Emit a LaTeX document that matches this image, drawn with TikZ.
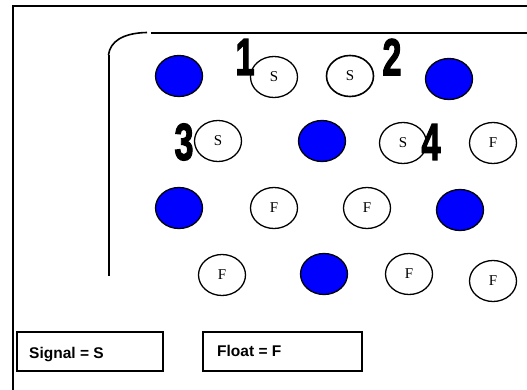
\documentclass[tikz,border=0pt]{standalone}
\usepackage{fontspec}
\setmainfont{Liberation Serif}
\newfontfamily\arialfont{Liberation Sans}
\newfontfamily\heavyfont[FakeBold=2.5]{Liberation Sans Bold}
\usetikzlibrary{shapes.geometric}
\tikzset{
  hole/.style={ellipse, draw=black, line width=1.3pt, minimum width=47pt, minimum height=41pt, inner sep=0pt,
    font=\fontsize{15}{15}\selectfont},
  bluehole/.style={hole, fill=blue},
  whitehole/.style={hole, fill=white},
  num/.style={inner sep=0pt, font=\heavyfont\fontsize{52}{52}\selectfont},
  frame/.style={line width=2pt},
  legend/.style={draw=black, line width=1.3pt, minimum width=146pt, minimum height=39pt, inner sep=0pt},
  legtext/.style={inner sep=0pt, anchor=west, font=\arialfont\bfseries\fontsize{15.5}{15.5}\selectfont}
}
\newcommand{\holetext}[1]{\raisebox{-3pt}{#1}}
\newcommand{\bignum}[1]{\scalebox{0.66}[1]{#1}}
\begin{document}
\begin{tikzpicture}[x=1pt,y=-1pt]
\useasboundingbox (0,0) rectangle (527,390);
% outer frame
\coordinate (oTL) at (13,6);
\coordinate (oTR) at (527,6);
\coordinate (oBL) at (13,390);
\draw[frame] (oTR) -- (oTL) -- (oBL);
% inner frame
\coordinate (iTR) at (527,33);
\coordinate (iTS) at (151,33);
\coordinate (cA) at (147,32.5);
\coordinate (cB) at (108.5,55);
\coordinate (iBL) at (108.5,276);
\draw[frame] (iTR) -- (iTS);
\draw[line width=1.6pt] (cA) .. controls (122,33) and (110,42) .. (cB);
\draw[frame] (cB) -- (iBL);
% row 1
\node[bluehole] (b11) at (179,76) {};
\node[whitehole] (s1) at (274,77) {\holetext{S}};
\node[whitehole, line width=1.6pt] (s2) at (350,76) {\holetext{S}};
\node[bluehole] (b12) at (449,79) {};
% row 2
\node[whitehole] (s3) at (218,141) {\holetext{S}};
\node[bluehole] (b21) at (322,141) {};
\node[whitehole] (s4) at (403,143) {\holetext{S}};
\node[whitehole] (f1) at (493,143) {\holetext{F}};
% row 3
\node[bluehole] (b31) at (179,208) {};
\node[whitehole] (f2) at (274,208) {\holetext{F}};
\node[whitehole] (f3) at (367,208) {\holetext{F}};
\node[bluehole] (b32) at (460,210) {};
% row 4
\node[whitehole] (f4) at (222,275) {\holetext{F}};
\node[bluehole] (b41) at (324,274) {};
\node[whitehole] (f5) at (409,274) {\holetext{F}};
\node[whitehole] (f6) at (493,281) {\holetext{F}};
% numbers
\node[num] (n1) at (245,57) {\bignum{1}};
\node[num] (n2) at (392,57) {\bignum{2}};
\node[num] (n3) at (184,142) {\bignum{3}};
\node[num] (n4) at (431,142) {\bignum{4}};
% legend
\node[legend] (lg1) at (90,351.5) {};
\node[legend, minimum width=159pt] (lg2) at (282.5,351.5) {};
\node[legtext] (t1) at (29,355) {Signal = S};
\node[legtext] (t2) at (217,351) {Float = F};
\end{tikzpicture}
\end{document}
